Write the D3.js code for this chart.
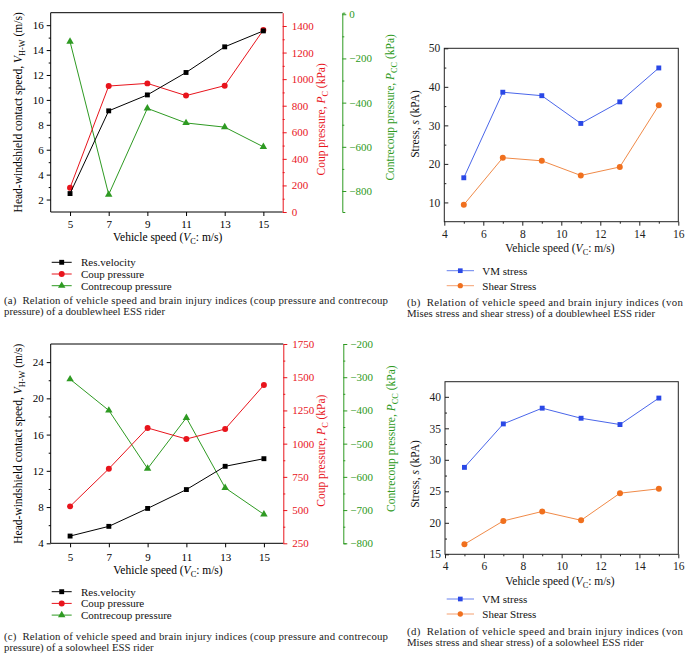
<!DOCTYPE html>
<html><head><meta charset="utf-8">
<script src="https://cdn.jsdelivr.net/npm/d3@7"></script>
<style>
body{margin:0;background:#fff}
</style>
</head><body>
<svg id="c" width="690" height="672"></svg>
<script>
// ---------- DATA ----------
const speeds = [5, 7, 9, 11, 13, 15];
// (a) doublewheel
const resVelA = [2.48, 9.12, 10.4, 12.2, 14.26, 15.54];
const coupA = [182, 948, 968, 876, 951, 1370];
const contreA = [-124, -816, -426, -492, -511, -600];
// (b) doublewheel stresses
const vmB = [16.4, 38.6, 37.7, 30.5, 36.1, 44.9];
const shearB = [9.4, 21.6, 20.8, 17.0, 19.2, 35.2];
// (c) solowheel
const resVelC = [4.8, 5.87, 7.85, 9.93, 12.5, 13.34];
const coupC = [528, 811, 1118, 1035, 1110, 1441];
const contreC = [-306, -400, -575, -422, -633, -713];
// (d) solowheel stresses
const vmD = [28.8, 35.7, 38.2, 36.6, 35.6, 39.8];
const shearD = [16.6, 20.3, 21.8, 20.4, 24.7, 25.4];

// ticks
const xTicksAC = [5, 7, 9, 11, 13, 15];
const leftTicksA = [2, 4, 6, 8, 10, 12, 14, 16];
const coupTicksA = [0, 200, 400, 600, 800, 1000, 1200, 1400];
const contreTicksA = [0, -200, -400, -600, -800];
const leftTicksC = [4, 8, 12, 16, 20, 24];
const coupTicksC = [250, 500, 750, 1000, 1250, 1500, 1750];
const contreTicksC = [-200, -300, -400, -500, -600, -700, -800];
const xTicksBD = [4, 6, 8, 10, 12, 14, 16];
const yTicksB = [10, 20, 30, 40, 50];
const yTicksD = [15, 20, 25, 30, 35, 40];

const legendTriple = ["Res.velocity", "Coup pressure", "Contrecoup pressure"];
const legendStress = ["VM stress", "Shear Stress"];

const captionA = ["(a)  Relation of vehicle speed and brain injury indices (coup pressure and contrecoup", "pressure) of a doublewheel ESS rider"];
const captionB = ["(b)  Relation of vehicle speed and brain injury indices (von", "Mises stress and shear stress) of a doublewheel ESS rider"];
const captionC = ["(c)  Relation of vehicle speed and brain injury indices (coup pressure and contrecoup", "pressure) of a solowheel ESS rider"];
const captionD = ["(d)  Relation of vehicle speed and brain injury indices (von", "Mises stress and shear stress) of a solowheel ESS rider"];

// ---------- STYLE ----------
const FONT = '"Liberation Serif","Times New Roman",Times,"Noto Serif","DejaVu Serif",FreeSerif,serif';
const BLACK = "#000", RED = "#e8141c", GREEN = "#2e9a22", BLUE = "#2a48e6", ORANGE = "#f0701e";
const TFS = 11, LFS = 11.5;
const fmt = d3.format("d");

const svg = d3.select("#c").attr("font-family", FONT);

function rich(sel, parts, fs) {
  let shifted = false;
  parts.forEach(p => {
    const ts = sel.append("tspan").text(p.t);
    if (p.i) ts.attr("font-style", "italic");
    if (p.sub) { ts.attr("font-size", fs * 0.72).attr("dy", 3); shifted = true; }
    else if (shifted) { ts.attr("dy", -3); shifted = false; }
  });
}

function styleAxis(g, color, fs) {
  g.attr("font-family", FONT);
  g.selectAll("path.domain").attr("stroke", color).attr("stroke-width", 1);
  g.selectAll(".tick line").attr("stroke", color);
  g.selectAll(".tick text").attr("fill", color).attr("font-size", fs).attr("font-family", FONT);
}

function between(ticks) {
  const out = [];
  for (let i = 0; i < ticks.length - 1; i++) out.push((ticks[i] + ticks[i + 1]) / 2);
  return out;
}

function drawSeries(g, x, y, xs, ys, color, sym, size, lineColor) {
  g.append("path").datum(xs.map((d, i) => [d, ys[i]]))
    .attr("fill", "none").attr("stroke", lineColor || color).attr("stroke-width", 1)
    .attr("d", d3.line().x(d => x(d[0])).y(d => y(d[1])));
  g.selectAll(null).data(xs.map((d, i) => [d, ys[i]])).enter().append("path")
    .attr("transform", d => `translate(${x(d[0])},${y(d[1])})`)
    .attr("d", d3.symbol().type(sym).size(size)).attr("fill", color);
}

function caption(lines, x, y0, width, lh) {
  lines.forEach((t, i) => {
    const tx = svg.append("text").attr("x", x).attr("y", y0 + i * lh)
      .attr("font-size", 10.8).attr("fill", "#222").attr("xml:space", "preserve").text(t);
    if (i === 0) tx.attr("textLength", width).attr("lengthAdjust", "spacing");
  });
}

// ---------- TRIPLE AXIS PANEL ----------
function triple(cfg) {
  const { l, r, t, b, gx } = cfg;
  const x = d3.scaleLinear().domain([4, 16]).range([l, r]);
  const yL = d3.scaleLinear().domain(cfg.leftDom).range([b, t]);
  const yR = d3.scaleLinear().domain(cfg.coupDom).range([b, t]);
  const yG = d3.scaleLinear().domain(cfg.contreDom).range([b, t]);
  const g = svg.append("g");

  g.append("path").attr("d", `M${r},${t}H${l}V${b}H${r}`).attr("fill", "none").attr("stroke", BLACK);

  const ax = g.append("g").attr("transform", `translate(0,${b})`)
    .call(d3.axisBottom(x).tickValues(cfg.xTicks).tickSize(4).tickSizeOuter(0).tickPadding(cfg.xPad));
  styleAxis(ax, BLACK, TFS);
  ax.select("path.domain").remove();

  const al = g.append("g").attr("transform", `translate(${l},0)`)
    .call(d3.axisLeft(yL).tickValues(cfg.leftTicks).tickSize(4).tickSizeOuter(0).tickPadding(3).tickFormat(fmt));
  styleAxis(al, BLACK, TFS); al.select("path.domain").remove();
  const alm = g.append("g").attr("transform", `translate(${l},0)`)
    .call(d3.axisLeft(yL).tickValues(between(cfg.leftTicks)).tickSize(2).tickSizeOuter(0).tickFormat(""));
  styleAxis(alm, BLACK, TFS); alm.select("path.domain").remove();

  const ar = g.append("g").attr("transform", `translate(${r},0)`)
    .call(d3.axisRight(yR).tickValues(cfg.coupTicks).tickSize(4).tickSizeOuter(0).tickPadding(5).tickFormat(fmt));
  styleAxis(ar, RED, TFS);
  const arm = g.append("g").attr("transform", `translate(${r},0)`)
    .call(d3.axisRight(yR).tickValues(between(cfg.coupTicks)).tickSize(2).tickSizeOuter(0).tickFormat(""));
  styleAxis(arm, RED, TFS); arm.select("path.domain").remove();

  const ag = g.append("g").attr("transform", `translate(${gx},0)`)
    .call(d3.axisRight(yG).tickValues(cfg.contreTicks).tickSize(4).tickSizeOuter(3).tickPadding(3).tickFormat(fmt));
  styleAxis(ag, GREEN, TFS);
  const agm = g.append("g").attr("transform", `translate(${gx},0)`)
    .call(d3.axisRight(yG).tickValues(between(cfg.contreTicks)).tickSize(2).tickSizeOuter(0).tickFormat(""));
  styleAxis(agm, GREEN, TFS); agm.select("path.domain").remove();

  drawSeries(g, x, yG, speeds, cfg.contre, GREEN, d3.symbolTriangle, 24);
  drawSeries(g, x, yR, speeds, cfg.coup, RED, d3.symbolCircle, 28);
  drawSeries(g, x, yL, speeds, cfg.res, BLACK, d3.symbolSquare, 24);

  const mid = (t + b) / 2;
  const tl = g.append("text").attr("transform", `translate(22,${mid}) rotate(-90)`)
    .attr("text-anchor", "middle").attr("font-size", LFS).attr("fill", BLACK);
  rich(tl, [{ t: "Head-windshield contact speed, " }, { t: "V", i: 1 }, { t: "H-W", sub: 1 }, { t: " (m/s)" }], LFS);
  const tr = g.append("text").attr("transform", `translate(${r + 42},${mid + 7}) rotate(-90)`)
    .attr("text-anchor", "middle").attr("font-size", LFS).attr("fill", RED);
  rich(tr, [{ t: "Coup pressure, " }, { t: "P", i: 1 }, { t: "C", sub: 1 }, { t: " (kPa)" }], LFS);
  const tg = g.append("text").attr("transform", `translate(${gx + 52},${mid - 5}) rotate(-90)`)
    .attr("text-anchor", "middle").attr("font-size", LFS).attr("fill", GREEN);
  rich(tg, [{ t: "Contrecoup pressure, " }, { t: "P", i: 1 }, { t: "CC", sub: 1 }, { t: " (kPa)" }], LFS);
  const tx = g.append("text").attr("x", (l + r) / 2 + 1).attr("y", cfg.xLabelY)
    .attr("text-anchor", "middle").attr("font-size", LFS).attr("fill", BLACK);
  rich(tx, [{ t: "Vehicle speed (" }, { t: "V", i: 1 }, { t: "C", sub: 1 }, { t: ": m/s)" }], LFS);

  const cols = [BLACK, RED, GREEN], syms = [d3.symbolSquare, d3.symbolCircle, d3.symbolTriangle], sz = [24, 28, 24];
  legendTriple.forEach((name, i) => {
    const yy = cfg.legY + i * 11.7;
    g.append("line").attr("x1", 51.7).attr("x2", 71.7).attr("y1", yy).attr("y2", yy).attr("stroke", cols[i]);
    g.append("path").attr("transform", `translate(61.7,${yy})`).attr("d", d3.symbol().type(syms[i]).size(sz[i])).attr("fill", cols[i]);
    g.append("text").attr("x", 81).attr("y", yy + 3.8).attr("font-size", TFS).attr("fill", "#111").text(name);
  });
}

// ---------- STRESS PANEL ----------
function stress(cfg) {
  const { l, r, t, b } = cfg;
  const x = d3.scaleLinear().domain([4, 16]).range([l, r]);
  const y = d3.scaleLinear().domain(cfg.yDom).range([b, t]);
  const g = svg.append("g");
  g.append("rect").attr("x", l).attr("y", t).attr("width", r - l).attr("height", b - t)
    .attr("fill", "none").attr("stroke", "#222");

  const ax = g.append("g").attr("transform", `translate(0,${b})`)
    .call(d3.axisBottom(x).tickValues(xTicksBD).tickSize(4).tickSizeOuter(0).tickPadding(4));
  styleAxis(ax, "#222", LFS); ax.select("path.domain").remove();
  const axm = g.append("g").attr("transform", `translate(0,${b})`)
    .call(d3.axisBottom(x).tickValues(between(xTicksBD)).tickSize(2).tickSizeOuter(0).tickFormat(""));
  styleAxis(axm, "#222", LFS); axm.select("path.domain").remove();

  const ay = g.append("g").attr("transform", `translate(${l},0)`)
    .call(d3.axisLeft(y).tickValues(cfg.yTicks).tickSize(-4).tickSizeOuter(0).tickPadding(4));
  styleAxis(ay, "#222", LFS); ay.select("path.domain").remove();
  const aym = g.append("g").attr("transform", `translate(${l},0)`)
    .call(d3.axisLeft(y).tickValues(between(cfg.yTicks)).tickSize(-2).tickSizeOuter(0).tickFormat(""));
  styleAxis(aym, "#222", LFS); aym.select("path.domain").remove();

  drawSeries(g, x, y, speeds, cfg.vm, BLUE, d3.symbolSquare, 24, "#4a66ea");
  drawSeries(g, x, y, speeds, cfg.shear, ORANGE, d3.symbolCircle, 28, "#f08a48");

  const yl = g.append("text").attr("transform", `translate(419,${cfg.yLabMid}) rotate(-90)`)
    .attr("text-anchor", "middle").attr("font-size", LFS).attr("fill", "#111");
  rich(yl, [{ t: "Stress, " }, { t: "s", i: 1 }, { t: " (kPA)" }], LFS);
  const xl = g.append("text").attr("x", 560).attr("y", cfg.xLabelY)
    .attr("text-anchor", "middle").attr("font-size", LFS).attr("fill", "#111");
  rich(xl, [{ t: "Vehicle speed (" }, { t: "V", i: 1 }, { t: "C", sub: 1 }, { t: ": m/s)" }], LFS);

  const cols = [BLUE, ORANGE], lcols = ["#6680ee", "#f5a070"], syms = [d3.symbolSquare, d3.symbolCircle];
  legendStress.forEach((name, i) => {
    const yy = cfg.legY + i * 15;
    g.append("line").attr("x1", 446.7).attr("x2", 474).attr("y1", yy).attr("y2", yy).attr("stroke", lcols[i]);
    g.append("path").attr("transform", `translate(460.3,${yy})`).attr("d", d3.symbol().type(syms[i]).size(22)).attr("fill", cols[i]);
    g.append("text").attr("x", 482.3).attr("y", yy + 3.8).attr("font-size", TFS).attr("fill", "#111").text(name);
  });
}

triple({
  l: 50.7, r: 282.7, t: 12.7, b: 212, gx: 342.3,
  leftDom: [1, 17], coupDom: [0, 1500], contreDom: [-895, 7],
  xTicks: xTicksAC, leftTicks: leftTicksA, coupTicks: coupTicksA, contreTicks: contreTicksA,
  res: resVelA, coup: coupA, contre: contreA, xPad: 4.5, xLabelY: 241, legY: 262.3
});
triple({
  l: 50.7, r: 283.3, t: 344, b: 543.3, gx: 343.3,
  leftDom: [4, 26], coupDom: [250, 1750], contreDom: [-800, -200],
  xTicks: xTicksAC, leftTicks: leftTicksC, coupTicks: coupTicksC, contreTicks: contreTicksC,
  res: resVelC, coup: coupC, contre: contreC, xPad: 5.5, xLabelY: 574, legY: 591.7
});
stress({ l: 444.3, r: 678.3, t: 48.3, b: 221.7, yDom: [5, 50], yTicks: yTicksB, vm: vmB, shear: shearB,
  yLabMid: 124, xLabelY: 252, legY: 270.7 });
stress({ l: 445, r: 678.3, t: 381.7, b: 554.3, yDom: [15, 42.4], yTicks: yTicksD, vm: vmD, shear: shearD,
  yLabMid: 474, xLabelY: 584.5, legY: 599 });

caption(captionA, 4, 303.5, 384, 11.2);
caption(captionB, 407, 306, 276, 11.2);
caption(captionC, 4, 640, 384, 11.2);
caption(captionD, 407, 635, 276, 11.2);
</script>
</body></html>
